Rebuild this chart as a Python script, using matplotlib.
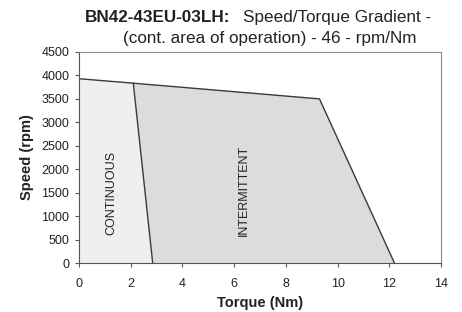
import matplotlib
matplotlib.use("Agg")
import matplotlib.pyplot as plt

plt.rcParams['font.family'] = ['Liberation Sans', 'DejaVu Sans']

# Data
cont_torque = [0, 2.1, 2.85, 0]
cont_speed = [3930, 3835, 0, 0]
inter_torque = [2.1, 9.3, 12.2, 2.85]
inter_speed = [3835, 3500, 0, 0]
xticks = [0, 2, 4, 6, 8, 10, 12, 14]
yticks = [0, 500, 1000, 1500, 2000, 2500, 3000, 3500, 4000, 4500]

fig = plt.figure(figsize=(4.62, 3.12), dpi=100)
ax = fig.add_axes([79/462, 1-263/312, (441-79)/462, (263-52)/312])

ax.fill(cont_torque, cont_speed, facecolor='#efefef', edgecolor='none', zorder=1)
ax.fill(inter_torque, inter_speed, facecolor='#dcdcdc', edgecolor='none', zorder=1)
lc = '#3a3a3a'
ax.plot([0, 2.1, 9.3, 12.2], [3930, 3835, 3500, 0], color=lc, lw=1.0, zorder=2)
ax.plot([2.1, 2.85], [3835, 0], color=lc, lw=1.0, zorder=2)

ax.set_xlim(0, 14)
ax.set_ylim(0, 4500)
ax.set_xticks(xticks)
ax.set_yticks(yticks)
ax.tick_params(direction='out', length=3, width=0.8, color='#555555',
               labelsize=9, labelcolor='#222222')
ax.tick_params(axis='x', pad=8)
ax.tick_params(axis='y', pad=4)
for s in ax.spines.values():
    s.set_color('#888888')
    s.set_linewidth(0.8)
ax.spines['left'].set_color('#555555')
ax.spines['bottom'].set_color('#555555')

ax.set_xlabel('Torque (Nm)', fontsize=10.5, fontweight='bold', color='#222222', labelpad=4)
ax.set_ylabel('Speed (rpm)', fontsize=10.5, fontweight='bold', color='#222222', labelpad=5)

ax.text(1.24, 1503, 'CONTINUOUS', rotation=90, ha='center', va='center',
        fontsize=9, color='#222222')
ax.text(6.38, 1557, 'INTERMITTENT', rotation=90, ha='center', va='center',
        fontsize=9, color='#222222')

fig.text(230/462, 1-22/312, 'BN42-43EU-03LH:', ha='right', va='baseline',
         fontsize=12.3, fontweight='bold', color='#222222')
fig.text(243/462, 1-22/312, 'Speed/Torque Gradient -', ha='left', va='baseline',
         fontsize=12.3, color='#222222')
fig.text(269.5/462, 1-43/312, '(cont. area of operation) - 46 - rpm/Nm', ha='center',
         va='baseline', fontsize=12.3, color='#222222')

fig.savefig('out.png', dpi=100)
